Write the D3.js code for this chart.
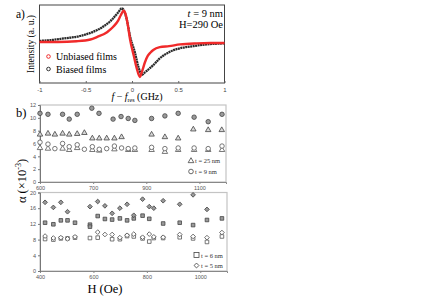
<!DOCTYPE html>
<html>
<head>
<meta charset="utf-8">
<script src="https://cdn.jsdelivr.net/npm/d3@7"></script>
<style>
  body { margin: 0; background: #fff; }
  svg { display: block; }
  text { font-family: "Liberation Serif", "Times New Roman", serif; }
  .tk text { font-family: "Liberation Sans", Arial, sans-serif; }
</style>
</head>
<body>
<div id="chart"></div>
<script>
// ---- panel a: FMR spectra (f - f_res in GHz, intensity a.u.) ----
const unbiasedX = [-1.0, -0.8, -0.6, -0.45, -0.38, -0.27, -0.2, -0.15, -0.12, -0.09, -0.07, -0.04, -0.02, 0.02, 0.05, 0.085, 0.11, 0.14, 0.17, 0.2, 0.23, 0.3, 0.4, 0.52, 0.7, 0.85, 1.0];
const unbiasedY = [0.03, 0.03, 0.05, 0.1, 0.17, 0.31, 0.47, 0.64, 0.8, 0.92, 0.83, 0.43, 0.09, -0.37, -0.71, -0.97, -0.8, -0.55, -0.37, -0.27, -0.2, -0.12, -0.09, -0.04, -0.01, 0.0, 0.0];
const biasedX = [-1.0, -0.85, -0.74, -0.56, -0.42, -0.31, -0.22, -0.15, -0.11, -0.06, -0.02, 0.03, 0.07, 0.105, 0.14, 0.18, 0.23, 0.3, 0.41, 0.52, 0.66, 0.8, 1.0];
const biasedY = [0.06, 0.09, 0.13, 0.2, 0.32, 0.47, 0.66, 0.87, 0.99, 0.71, 0.18, -0.26, -0.69, -0.91, -0.84, -0.75, -0.63, -0.44, -0.25, -0.15, -0.09, -0.04, -0.01];
const aTicks = [-1, -0.5, 0, 0.5, 1];
const aTickLabels = ["-1", "-0.5", "0", "0.5", "1"];

// ---- panel b, upper: t = 25 nm (triangles) and t = 9 nm (circles) ----
const t9FilledH = [500, 530, 585, 610, 640, 695, 722, 775, 805, 832, 857, 920, 970, 1020, 1080, 1133, 1185];
const t9FilledA = [10.7, 10.55, 10.55, 9.8, 10.55, 11.5, 10.7, 9.8, 10.2, 9.9, 9.6, 9.9, 10.3, 10.7, 10.1, 9.4, 10.55];
const t25FilledH = [500, 530, 556, 585, 610, 640, 667, 697, 723, 751, 780, 807, 920, 970, 1020, 1077, 1133, 1184];
const t25FilledA = [7.4, 7.55, 7.4, 7.55, 7.4, 7.5, 7.65, 6.8, 6.8, 6.8, 6.8, 7.0, 7.4, 7.0, 6.8, 8.2, 8.1, 8.1];
const t9OpenH = [500, 530, 556, 585, 610, 640, 667, 697, 723, 751, 780, 807, 832, 857, 920, 970, 1020, 1080, 1133, 1185];
const t9OpenA = [6.2, 5.9, 5.2, 6.0, 5.5, 5.8, 5.1, 5.5, 5.1, 5.2, 5.6, 5.3, 5.2, 5.3, 5.4, 5.2, 5.3, 5.3, 5.2, 5.6];
const t25OpenH = [500, 530, 585, 610, 640, 697, 723, 780, 832, 857, 920, 970, 1020, 1080, 1133, 1185];
const t25OpenA = [5.3, 5.2, 5.2, 5.0, 5.3, 5.0, 4.9, 5.1, 5.0, 5.0, 5.0, 4.7, 5.0, 5.0, 5.0, 5.0];
const b1Ticks = [500, 700, 900, 1100];
const b1TickLabels = ["600", "700", "900", "1100"];
const b1YTicks = [0, 2, 4, 6, 8, 10, 12];

// ---- panel b, lower: t = 6 nm (squares) and t = 5 nm (diamonds) ----
const t5FilledH = [419, 450, 478, 503, 587, 616, 643, 670, 699, 726, 751, 784, 809, 826, 861, 923, 973, 1025];
const t5FilledA = [17.5, 16.2, 17.5, 15.1, 16.4, 17.7, 16.6, 14.7, 16.0, 17.0, 14.2, 18.3, 16.4, 16.0, 17.9, 17.0, 19.4, 15.7];
const t6FilledH = [419, 450, 478, 503, 531, 587, 587, 616, 643, 670, 699, 726, 751, 784, 809, 861, 923, 973, 1025, 1081];
const t6FilledA = [12.3, 11.9, 12.9, 12.9, 12.3, 11.8, 11.3, 14.0, 13.25, 13.1, 13.4, 12.9, 13.4, 14.1, 13.3, 12.1, 12.3, 11.7, 13.0, 13.4];
const t5OpenH = [419, 450, 478, 503, 531, 616, 643, 670, 699, 726, 751, 784, 809, 826, 861, 923, 973, 1025, 1081];
const t5OpenA = [8.9, 8.4, 8.5, 8.2, 8.7, 9.9, 9.3, 9.3, 8.5, 9.1, 9.4, 8.6, 9.4, 8.7, 8.6, 9.3, 8.8, 8.5, 9.8];
const t6OpenH = [419, 450, 478, 503, 531, 587, 616, 670, 699, 726, 751, 784, 809, 826, 861, 923, 973, 1025, 1081];
const t6OpenA = [8.15, 8.0, 8.3, 8.3, 8.5, 8.4, 8.5, 8.1, 8.1, 8.9, 8.8, 8.3, 7.5, 8.4, 8.4, 8.6, 8.3, 7.4, 8.8];
const b2Ticks = [400, 600, 800, 1000];
const b2YTicks = [0, 4, 8, 12, 16, 20];

const W = 436, H = 308;
const svg = d3.select('#chart').append('svg').attr('width', W).attr('height', H);

// ================= panel a =================
const ax = d3.scaleLinear().domain([-1, 1]).range([39.5, 224.5]);
const ay = d3.scaleLinear().domain([-1.143, 1.086]).range([83, 5]);

svg.append('rect')
    .attr('x', ax(-1)).attr('y', ay(1.086))
    .attr('width', ax(1) - ax(-1)).attr('height', ay(-1.143) - ay(1.086))
    .attr('fill', 'none').attr('stroke', '#444').attr('stroke-width', 1);

const aAxis = svg.append('g').attr('class', 'tk')
    .attr('transform', `translate(0,${ay(-1.143)})`)
    .call(d3.axisBottom(ax).tickValues(aTicks).tickSize(-2).tickPadding(5)
        .tickFormat((d, i) => aTickLabels[i]));
aAxis.select('.domain').remove();
aAxis.selectAll('line').attr('stroke', '#666');
aAxis.selectAll('text').attr('font-size', 6).attr('fill', '#444');

const lineA = d3.line().x(d => ax(d[0])).y(d => ay(d[1])).curve(d3.curveMonotoneX);

svg.append('path')
    .datum(biasedX.map((x, i) => [x, biasedY[i]]))
    .attr('d', lineA).attr('fill', 'none')
    .attr('stroke', '#2a2a2a').attr('stroke-width', 2.3)
    .attr('stroke-dasharray', '2,0.5');

svg.append('path')
    .datum(unbiasedX.map((x, i) => [x, unbiasedY[i]]))
    .attr('d', lineA).attr('fill', 'none')
    .attr('stroke', '#f02a2a').attr('stroke-width', 2.4);

// legend
svg.append('circle').attr('cx', 48.5).attr('cy', 56.5).attr('r', 1.8)
    .attr('fill', 'none').attr('stroke', '#f02a2a').attr('stroke-width', 1);
svg.append('circle').attr('cx', 48.5).attr('cy', 69).attr('r', 1.8)
    .attr('fill', 'none').attr('stroke', '#333').attr('stroke-width', 1);
svg.append('text').attr('x', 56).attr('y', 60).attr('font-size', 10).text('Unbiased films');
svg.append('text').attr('x', 56).attr('y', 72.5).attr('font-size', 10).text('Biased films');

// annotations
const ann = svg.append('text').attr('x', 223).attr('y', 16.5).attr('font-size', 10.5).attr('text-anchor', 'end');
ann.append('tspan').attr('font-style', 'italic').text('t');
ann.append('tspan').text(' = 9 nm');
svg.append('text').attr('x', 223).attr('y', 27.5).attr('font-size', 10.5).attr('text-anchor', 'end').text('H=290 Oe');

svg.append('text').attr('x', 16).attr('y', 18).attr('font-size', 11.5).text('a)');

svg.append('text')
    .attr('transform', `translate(34,44) rotate(-90)`)
    .attr('text-anchor', 'middle').attr('font-size', 9.5)
    .text('Intensity (a. u.)');

const xl = svg.append('text').attr('x', 137).attr('y', 100).attr('text-anchor', 'middle').attr('font-size', 10);
xl.append('tspan').attr('font-style', 'italic').text('f');
xl.append('tspan').text(' − ');
xl.append('tspan').attr('font-style', 'italic').text('f');
xl.append('tspan').attr('font-size', 6).attr('dy', 2).text('res');
xl.append('tspan').attr('dy', -2).text(' (GHz)');

// ================= panel b =================
const filledStyle = { fill: '#9a9a9a', stroke: '#444' };
const openStyle = { fill: '#fff', stroke: '#555' };

function drawMarkers(g, xs, ys, sx, sy, type, size, style, rot) {
    const sym = d3.symbol().type(type).size(size);
    g.selectAll(null)
        .data(xs.map((x, i) => [x, ys[i]]))
        .enter().append('path')
        .attr('d', sym)
        .attr('transform', d => `translate(${sx(d[0])},${sy(d[1])})` + (rot ? ` rotate(${rot})` : ''))
        .attr('fill', style.fill).attr('stroke', style.stroke).attr('stroke-width', 0.8);
}

function panelFrame(sx, sy, xTicks, xLabels, yTicks) {
    const [x0, x1] = sx.range();
    const [y0, y1] = sy.range();
    svg.append('rect').attr('x', x0).attr('y', y1).attr('width', x1 - x0).attr('height', y0 - y1)
        .attr('fill', 'none').attr('stroke', '#c4c4c4').attr('stroke-width', 1.2);
    const gx = svg.append('g').attr('class', 'tk').attr('transform', `translate(0,${y0})`)
        .call(d3.axisBottom(sx).tickValues(xTicks).tickSize(2).tickPadding(2)
            .tickFormat((d, i) => xLabels ? xLabels[i] : d));
    gx.select('.domain').attr('stroke', '#888');
    gx.selectAll('line').attr('stroke', '#888');
    gx.selectAll('text').attr('font-size', 5.5).attr('fill', '#555');
    const gy = svg.append('g').attr('class', 'tk').attr('transform', `translate(${x0},0)`)
        .call(d3.axisLeft(sy).tickValues(yTicks).tickSize(2).tickPadding(2));
    gy.select('.domain').attr('stroke', '#777');
    gy.selectAll('line').attr('stroke', '#777');
    gy.selectAll('text').attr('font-size', 5.5).attr('fill', '#555');
}

// upper panel
const b1x = d3.scaleLinear().domain([500, 1200]).range([40, 226]);
const b1y = d3.scaleLinear().domain([0, 12]).range([182, 105]);
panelFrame(b1x, b1y, b1Ticks, b1TickLabels, b1YTicks);
const g1 = svg.append('g');
drawMarkers(g1, t25OpenH, t25OpenA, b1x, b1y, d3.symbolTriangle, 13, openStyle);
drawMarkers(g1, t9OpenH, t9OpenA, b1x, b1y, d3.symbolCircle, 16, openStyle);
drawMarkers(g1, t25FilledH, t25FilledA, b1x, b1y, d3.symbolTriangle, 13, { fill: '#d8d8d8', stroke: '#444' });
drawMarkers(g1, t9FilledH, t9FilledA, b1x, b1y, d3.symbolCircle, 16, filledStyle);

// upper legend
svg.append('path').attr('d', d3.symbol().type(d3.symbolTriangle).size(14))
    .attr('transform', 'translate(191,161)').attr('fill', '#fff').attr('stroke', '#444').attr('stroke-width', 0.8);
svg.append('circle').attr('cx', 191).attr('cy', 171.5).attr('r', 2.3)
    .attr('fill', '#fff').attr('stroke', '#444').attr('stroke-width', 0.8);
svg.append('text').attr('x', 195).attr('y', 163).attr('font-size', 6.5).attr('fill', '#333').text('t = 25 nm');
svg.append('text').attr('x', 195).attr('y', 173.5).attr('font-size', 6.5).attr('fill', '#333').text('t = 9 nm');

svg.append('text').attr('x', 16).attr('y', 117).attr('font-size', 12.5).text('b)');

// lower panel
const b2x = d3.scaleLinear().domain([400, 1100]).range([40, 227]);
const b2y = d3.scaleLinear().domain([0, 20]).range([271, 192.5]);
panelFrame(b2x, b2y, b2Ticks, null, b2YTicks);
const g2 = svg.append('g');
drawMarkers(g2, t6OpenH, t6OpenA, b2x, b2y, d3.symbolSquare, 13, openStyle);
drawMarkers(g2, t5OpenH, t5OpenA, b2x, b2y, d3.symbolSquare, 11, openStyle, 45);
drawMarkers(g2, t6FilledH, t6FilledA, b2x, b2y, d3.symbolSquare, 13, filledStyle);
drawMarkers(g2, t5FilledH, t5FilledA, b2x, b2y, d3.symbolSquare, 11, filledStyle, 45);

// lower legend
svg.append('rect').attr('x', 194).attr('y', 252.5).attr('width', 5).attr('height', 5)
    .attr('fill', '#fff').attr('stroke', '#444').attr('stroke-width', 0.8);
svg.append('path').attr('d', d3.symbol().type(d3.symbolSquare).size(12))
    .attr('transform', 'translate(196.5,265.5) rotate(45)').attr('fill', '#fff').attr('stroke', '#444').attr('stroke-width', 0.8);
svg.append('text').attr('x', 201).attr('y', 257.5).attr('font-size', 6.5).attr('fill', '#333').text('t = 6 nm');
svg.append('text').attr('x', 201).attr('y', 267.5).attr('font-size', 6.5).attr('fill', '#333').text('t = 5 nm');

// shared labels
const al = svg.append('text').attr('transform', 'translate(26,181) rotate(-90)')
    .attr('text-anchor', 'middle').attr('font-size', 12.5);
al.append('tspan').text('α (×10');
al.append('tspan').attr('font-size', 8).attr('dy', -5).text('-3');
al.append('tspan').attr('dy', 5).text(')');

svg.append('text').attr('x', 105).attr('y', 293).attr('text-anchor', 'middle').attr('font-size', 12.5).text('H (Oe)');
</script>
</body>
</html>
